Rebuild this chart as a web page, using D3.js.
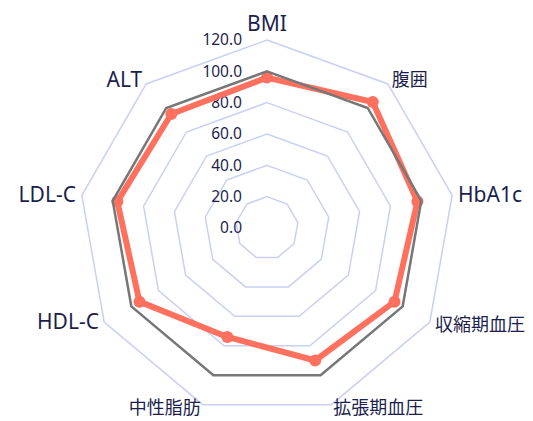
<!DOCTYPE html>
<html lang="ja">
<head>
<meta charset="utf-8">
<script src="https://cdn.jsdelivr.net/npm/d3@7/dist/d3.min.js"></script>
<style>
  html, body { margin: 0; padding: 0; background: #ffffff; }
  svg { display: block; }
  text { font-family: "Noto Sans", "Noto Sans CJK JP", sans-serif; fill: #1c1f4e; }
</style>
</head>
<body>
<svg id="chart" width="533" height="421"></svg>
<script>
// Indicators, clockwise from the top
const indicators = ["BMI", "腹囲", "HbA1c", "収縮期血圧", "拡張期血圧", "中性脂肪", "HDL-C", "LDL-C", "ALT"];
// Reference profile (all indicators at 100)
const referenceValues = [100, 100, 100, 100, 100, 100, 100, 100, 100];
// Measured profile
const measuredValues = [96, 105, 97.5, 94, 90, 74, 94, 97, 95];
// Radial levels and their labels
const levels = [0, 20, 40, 60, 80, 100, 120];
const levelLabels = ["0.0", "20.0", "40.0", "60.0", "80.0", "100.0", "120.0"];

const svg = d3.select("#chart");
const cx = 267, cy = 228;
const r = d3.scaleLinear().domain([0, 120]).range([0, 188]);
const angle = d3.scaleLinear().domain([0, indicators.length]).range([0, 2 * Math.PI]);

const pt = (i, v) => {
  const a = angle(i);
  return [cx + r(v) * Math.sin(a), cy - r(v) * Math.cos(a)];
};

// Grid polygons
const grid = svg.append("g");
levels.filter(l => l > 0).forEach(l => {
  grid.append("polygon")
    .attr("points", indicators.map((_, i) => pt(i, l).join(",")).join(" "))
    .attr("fill", "none")
    .attr("stroke", "#c9d0f4")
    .attr("stroke-width", 1.5);
});

// Level labels along the vertical axis
svg.append("g").selectAll("text")
  .data(levels)
  .join("text")
  .attr("x", 242)
  .attr("y", d => cy - r(d))
  .attr("dy", "0.35em")
  .attr("text-anchor", "end")
  .attr("font-size", 15.5)
  .text((d, i) => levelLabels[i]);

const line = d3.line().curve(d3.curveLinearClosed);

// Measured series
svg.append("path")
  .attr("d", line(measuredValues.map((v, i) => pt(i, v))))
  .attr("fill", "none")
  .attr("stroke", "#ff705f")
  .attr("stroke-width", 6)
  .attr("stroke-linejoin", "round");
svg.append("g").selectAll("circle")
  .data(measuredValues)
  .join("circle")
  .attr("cx", (d, i) => pt(i, d)[0])
  .attr("cy", (d, i) => pt(i, d)[1])
  .attr("r", 6)
  .attr("fill", "#ff705f");

// Reference series
svg.append("path")
  .attr("d", line(referenceValues.map((v, i) => pt(i, v))))
  .attr("fill", "none")
  .attr("stroke", "#777777")
  .attr("stroke-width", 2.5);

// Indicator names (Japanese names use a slightly smaller size)
const nameR = 194;
const isCJK = s => /[^\x00-\x7f]/.test(s);
svg.append("g").selectAll("text")
  .data(indicators)
  .join("text")
  .each(function (d, i) {
    const a = angle(i);
    const s = Math.sin(a), c = Math.cos(a);
    const t = d3.select(this);
    if (i === 0) {
      t.attr("x", cx).attr("y", cy - 197).attr("text-anchor", "middle");
    } else {
      t.attr("x", cx + nameR * s)
        .attr("y", cy - nameR * c - (c < -0.5 ? 3 : 0))
        .attr("dy", "0.35em")
        .attr("text-anchor", s > 0.01 ? "start" : (s < -0.01 ? "end" : "middle"));
    }
  })
  .attr("font-size", d => isCJK(d) ? 18 : 21)
  .text(d => d);
</script>
</body>
</html>
